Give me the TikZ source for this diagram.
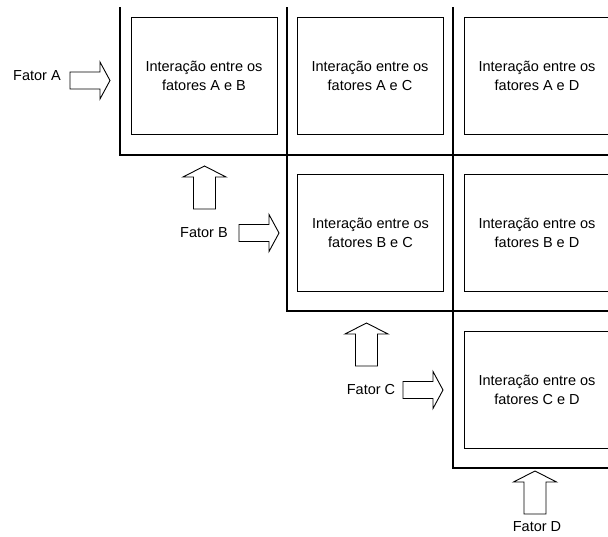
\documentclass[tikz,border=0pt]{standalone}
\usepackage{fontspec}
\setmainfont{Liberation Sans}
\begin{document}
\begin{tikzpicture}[x=1pt,y=-1pt,
  font=\fontsize{14.5}{19}\selectfont,
  ibox/.style={draw, line width=1pt, minimum width=146pt, minimum height=117pt, align=center, inner sep=0pt},
  gridline/.style={line width=2pt},
  lbl/.style={inner sep=0pt},
  blockarrow/.style={draw, line width=0.9pt, fill=white, line join=miter},
  rarrow/.pic={\path[blockarrow] (-40,-8.5) -- (-10,-8.5) -- (-10,-18.5) -- (0,0) -- (-10,18.5) -- (-10,8.5) -- (-40,8.5) -- cycle;},
  uarrow/.pic={\path[blockarrow] (-11,43) -- (-11,11) -- (-21.5,11) -- (0,0) -- (21.5,11) -- (11,11) -- (11,43) -- cycle;}
]
\useasboundingbox[fill=white] (0,0) rectangle (608,536);
\clip (0,0) rectangle (608,536);

% grid lines
\coordinate (g1t) at (120,7);
\coordinate (g1c) at (120,155);
\coordinate (g1r) at (612,155);
\coordinate (g2t) at (286.5,7);
\coordinate (g2c) at (286.5,311);
\coordinate (g2r) at (612,311);
\coordinate (g3t) at (453,7);
\coordinate (g3c) at (453,467.5);
\coordinate (g3r) at (612,467.5);
\draw[gridline] (g1t) -- (g1c) -- (g1r);
\draw[gridline] (g2t) -- (g2c) -- (g2r);
\draw[gridline] (g3t) -- (g3c) -- (g3r);

% interaction boxes
\node[ibox] (ab) at (204,75.5) {Interação entre os\\fatores A e B};
\node[ibox] (ac) at (370,75.5) {Interação entre os\\fatores A e C};
\node[ibox] (ad) at (537,75.5) {Interação entre os\\fatores A e D};
\node[ibox] (bc) at (370.5,232.5) {Interação entre os\\fatores B e C};
\node[ibox] (bd) at (537,232.5) {Interação entre os\\fatores B e D};
\node[ibox] (cd) at (537,390) {Interação entre os\\fatores C e D};

% factor labels
\node[lbl] (fa) at (37,76) {Fator A};
\node[lbl] (fb) at (204,232.5) {Fator B};
\node[lbl] (fc) at (371,389.5) {Fator C};
\node[lbl] (fd) at (537,527) {Fator D};

% block arrows
\pic (ra) at (110,80.5) {rarrow};
\pic (rb) at (279,233) {rarrow};
\pic (rc) at (443,390) {rarrow};
\pic (ub) at (204.5,166) {uarrow};
\pic (uc) at (366.5,323) {uarrow};
\pic (ud) at (535,471) {uarrow};
\end{tikzpicture}
\end{document}
